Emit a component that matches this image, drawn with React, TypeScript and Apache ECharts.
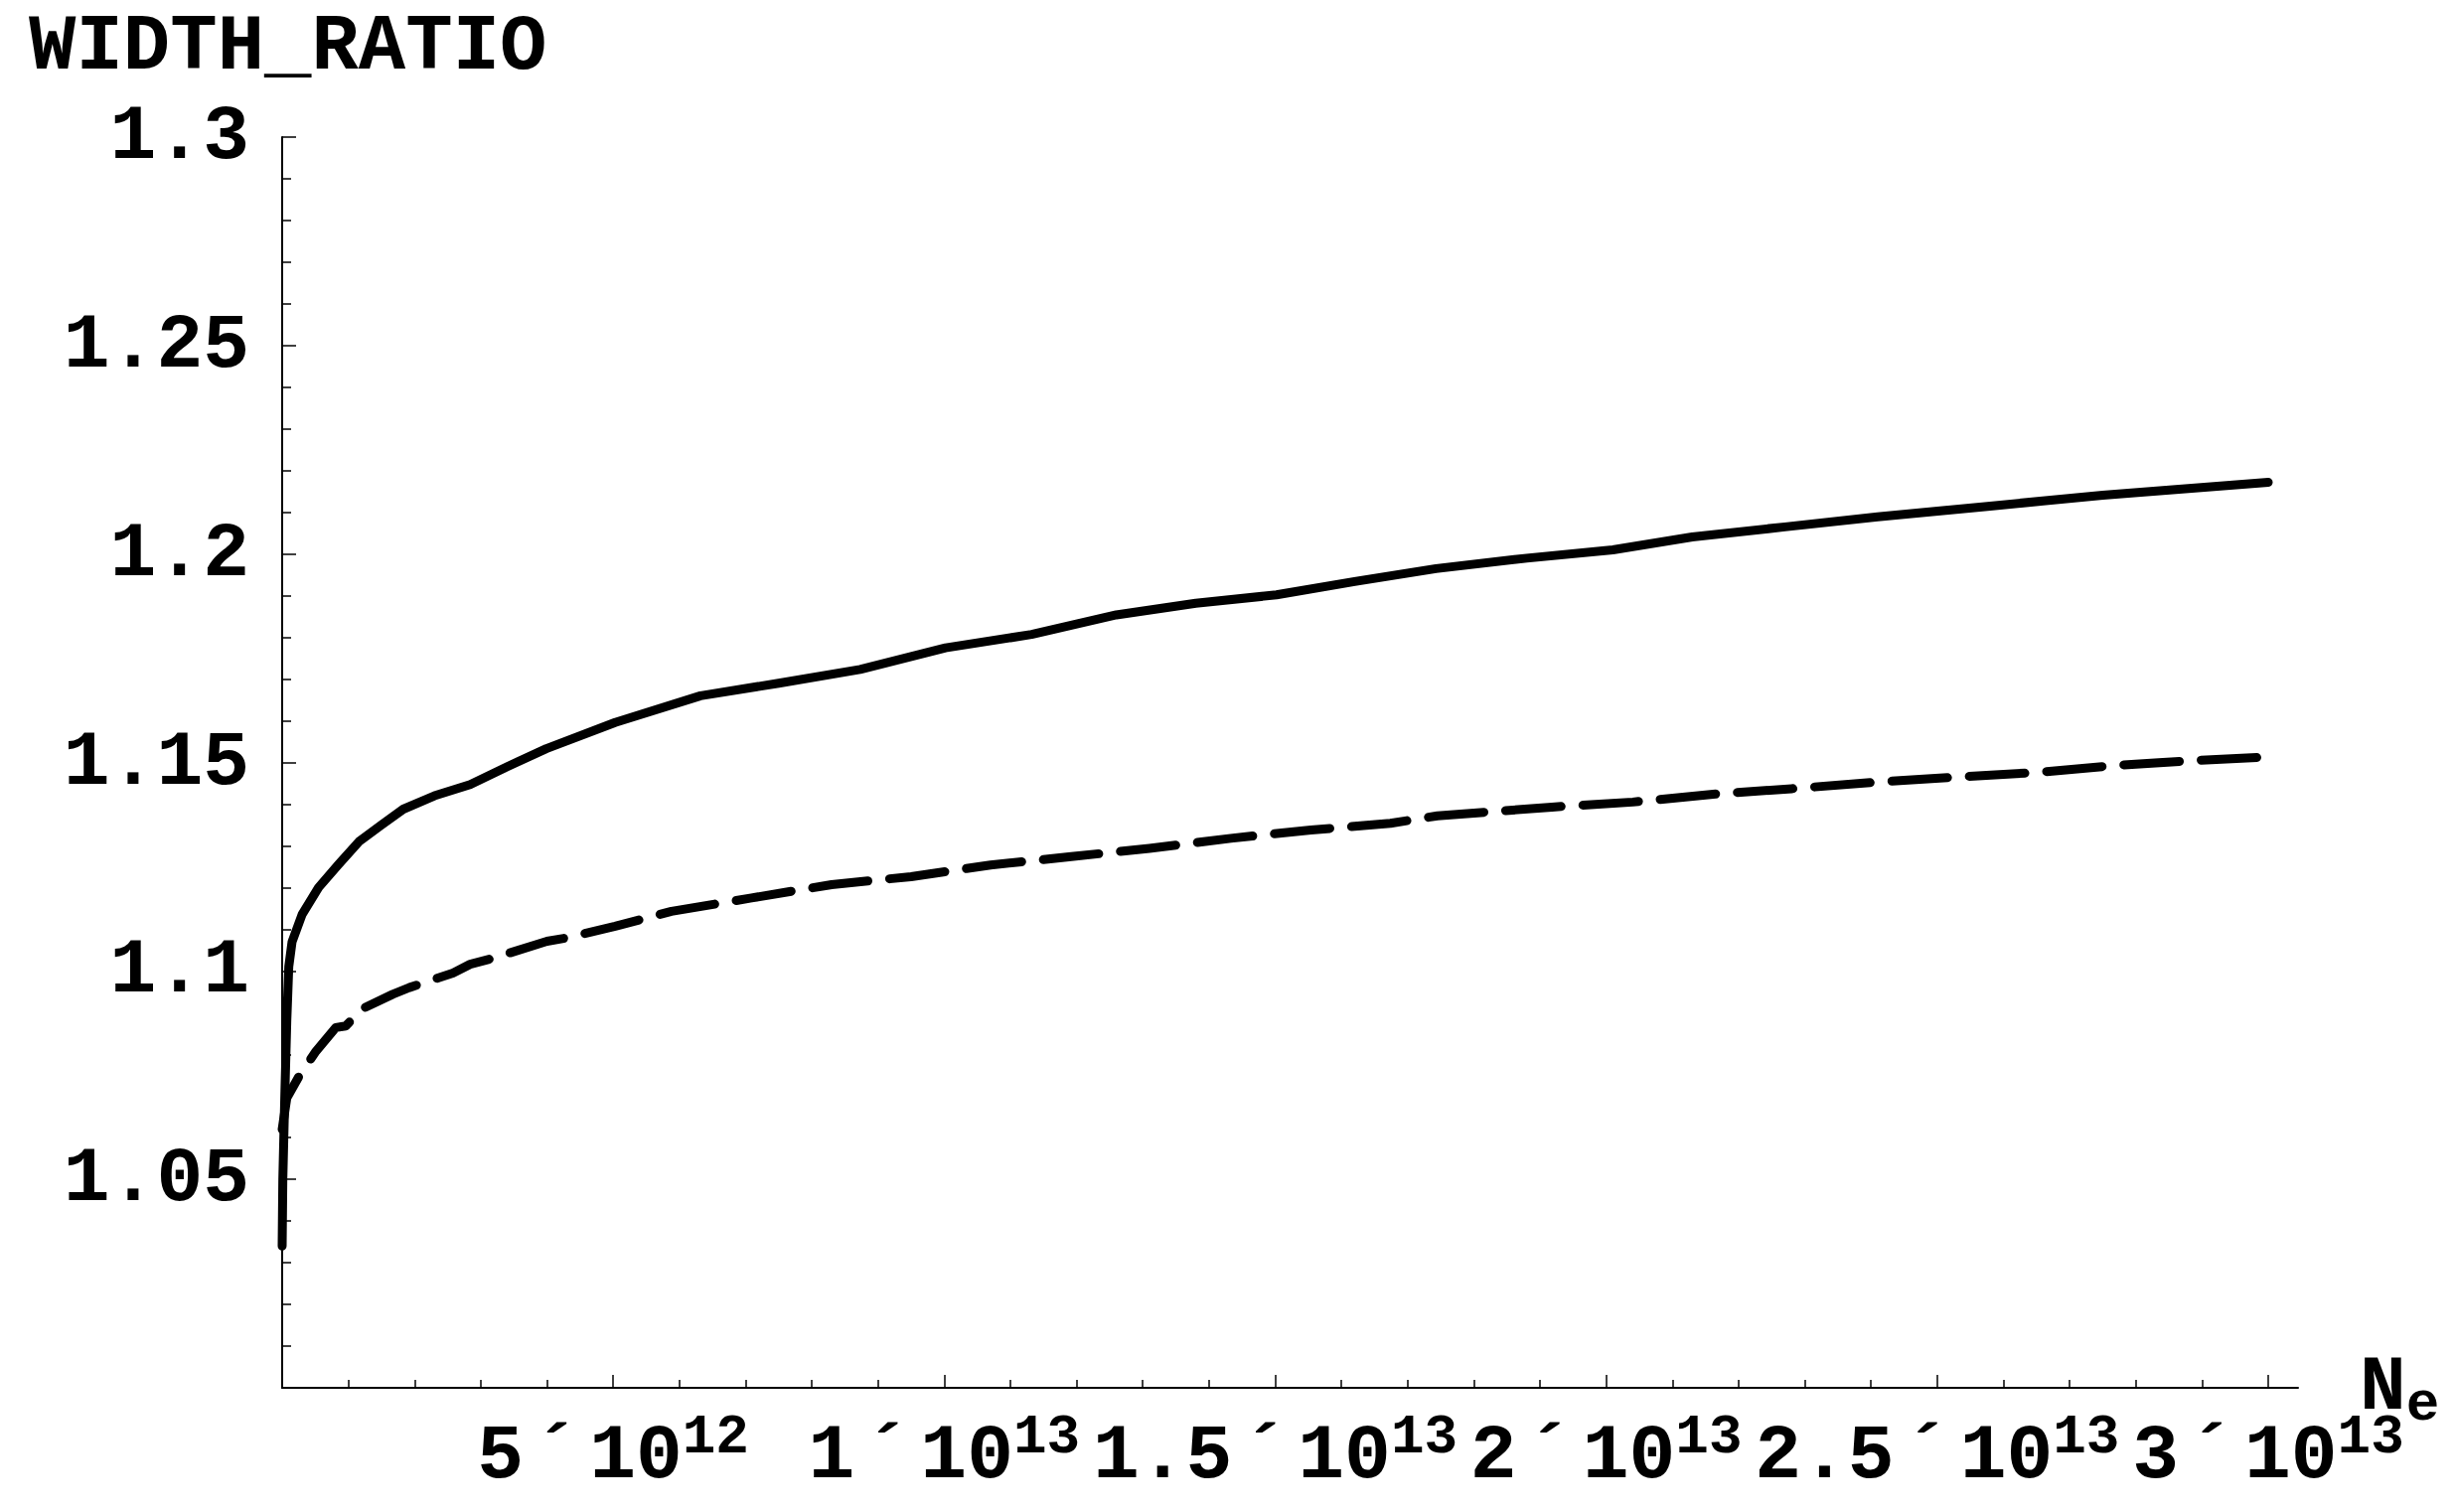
import React, { useEffect, useRef } from "react";
import * as echarts from "echarts";

// N_e in units of 10^12
const solidNe = [0, 0.01, 0.04, 0.07, 0.1, 0.15, 0.3, 0.55, 0.85, 1.16, 1.5, 1.83, 2.3, 2.84, 3.4, 3.99, 5.03, 6.32, 7.5, 8.73, 10.02, 11.32, 12.6, 13.8, 15.02, 16.2, 17.43, 18.8, 20.1, 21.3, 22.7, 24.1, 25.8, 27.5, 28.7, 30];
const solidRatio = [1.034, 1.05, 1.07, 1.088, 1.101, 1.107, 1.1135, 1.12, 1.1255, 1.131, 1.135, 1.1388, 1.142, 1.1447, 1.149, 1.1533, 1.1596, 1.166, 1.169, 1.1723, 1.1775, 1.1807, 1.1854, 1.1882, 1.1902, 1.1934, 1.1965, 1.199, 1.201, 1.2041, 1.2065, 1.2089, 1.2115, 1.2141, 1.2156, 1.2172];

const dashedNe = [0, 0.07, 0.25, 0.5, 0.81, 0.96, 1.22, 1.67, 1.92, 2.58, 2.84, 3.15, 4.0, 4.32, 5.03, 5.88, 7.09, 8.3, 9.5, 10.7, 11.92, 13.1, 14.33, 15.54, 16.74, 17.45, 19.18, 20.4, 21.7, 22.8, 24.1, 25.3, 26.5, 27.7, 28.9, 30];
const dashedRatio = [1.062, 1.0695, 1.0746, 1.0805, 1.0864, 1.0868, 1.091, 1.0944, 1.096, 1.0995, 1.1016, 1.1029, 1.1071, 1.108, 1.1107, 1.1143, 1.1175, 1.1207, 1.1226, 1.1254, 1.1274, 1.1294, 1.1318, 1.1338, 1.1354, 1.1372, 1.1393, 1.1405, 1.1425, 1.1437, 1.1453, 1.1465, 1.1476, 1.1493, 1.1505, 1.1513];

const xMajorTicks = [5, 10, 15, 20, 25, 30];
const xMinorTicks = [1, 2, 3, 4, 6, 7, 8, 9, 11, 12, 13, 14, 16, 17, 18, 19, 21, 22, 23, 24, 26, 27, 28, 29];
const xLabelValues = [5, 10, 15, 20, 25, 30];

const FONT = "Liberation Mono";

function fmtX(v: number): string {
  const exp = v < 10 ? 12 : 13;
  const m = v < 10 ? v : v / 10;
  return `{n|${m}}{t|´}{n|10}{s|${exp}}`;
}

export default function App() {
  const ref = useRef<HTMLDivElement>(null);
  useEffect(() => {
    if (!ref.current) return;
    const chart = echarts.init(ref.current, null, { renderer: "svg" });
    const black = "#000";
    const labelRich = {
      n: { fontFamily: FONT, fontWeight: "bold", fontSize: 78, lineHeight: 84, color: black },
      t: { fontFamily: FONT, fontWeight: "bold", fontSize: 78, lineHeight: 84, width: 66, align: "left", color: black },
      s: { fontFamily: FONT, fontWeight: "bold", fontSize: 56, height: 46, lineHeight: 46, verticalAlign: "top", color: black },
    };
    chart.setOption({
      animation: false,
      backgroundColor: "#fff",
      title: {
        text: "WIDTH_RATIO",
        left: 24,
        top: 3,
        textStyle: { fontFamily: FONT, fontWeight: "bold", fontSize: 79, color: black },
      },
      grid: { left: 284, right: 158, top: 138, bottom: 125, containLabel: false },
      xAxis: [
        {
          type: "value",
          min: 0,
          max: 30.45,
          position: "bottom",
          axisLine: { show: true, onZero: false, lineStyle: { color: black, width: 2 } },
          axisTick: { show: true, inside: true, length: 13, customValues: xMajorTicks, lineStyle: { color: black, width: 1.5 } },
          axisLabel: {
            show: true,
            customValues: xLabelValues,
            interval: 0,
            margin: 27,
            showMinLabel: true,
            showMaxLabel: true,
            hideOverlap: false,
            formatter: (v: number) => fmtX(v),
            rich: labelRich,
          },
          splitLine: { show: false },
          name: "{N|N}{e|e}",
          nameLocation: "end",
          nameGap: 62,
          nameMoveOverlap: false,
          nameTextStyle: {
            rich: {
              N: { fontFamily: FONT, fontWeight: "bold", fontSize: 78, lineHeight: 54, color: black },
              e: { fontFamily: FONT, fontWeight: "bold", fontSize: 56, height: 20, lineHeight: 20, verticalAlign: "bottom", color: black },
            },
          },
        },
        {
          type: "value",
          min: 0,
          max: 30.45,
          position: "bottom",
          axisLine: { show: false, onZero: false },
          axisTick: { show: true, inside: true, length: 8, customValues: xMinorTicks, lineStyle: { color: black, width: 1.5 } },
          axisLabel: { show: false },
          splitLine: { show: false },
        },
      ],
      yAxis: {
        type: "value",
        min: 1.0,
        max: 1.3,
        interval: 0.05,
        axisLine: { show: true, onZero: false, lineStyle: { color: black, width: 2 } },
        axisTick: { show: true, inside: true, length: 14, lineStyle: { color: black, width: 1.5 } },
        minorTick: { show: true, splitNumber: 5, length: 9, lineStyle: { color: black, width: 1.5 } },
        axisLabel: {
          showMinLabel: false,
          margin: 33,
          fontFamily: FONT,
          fontWeight: "bold",
          fontSize: 78,
          color: black,
        },
        splitLine: { show: false },
        minorSplitLine: { show: false },
      },
      series: [
        {
          type: "line",
          name: "dashed",
          data: dashedNe.map((x, i) => [x, dashedRatio[i]]),
          showSymbol: false,
          symbol: "none",
          smooth: false,
          lineStyle: { color: black, width: 9, type: [56, 22], cap: "round", join: "round" },
          z: 2,
        },
        {
          type: "line",
          name: "solid",
          data: solidNe.map((x, i) => [x, solidRatio[i]]),
          showSymbol: false,
          symbol: "none",
          smooth: false,
          lineStyle: { color: black, width: 9, type: "solid", cap: "round", join: "round" },
          z: 3,
        },
      ],
    });
    return () => chart.dispose();
  }, []);
  return (
    <div
      ref={ref}
      style={{ position: "fixed", left: 0, top: 0, width: 2471, height: 1522, background: "#fff" }}
    />
  );
}
